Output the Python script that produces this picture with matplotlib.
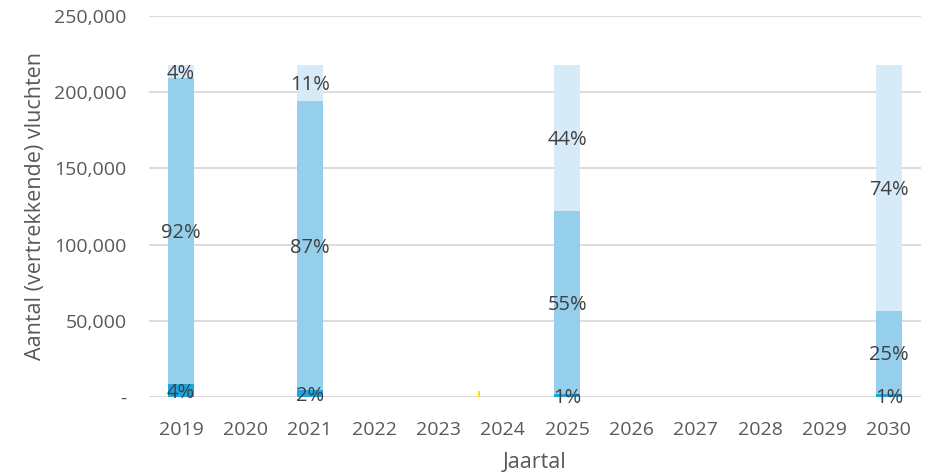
import matplotlib
matplotlib.use("Agg")
import matplotlib.pyplot as plt
import matplotlib.transforms as mtransforms
import numpy as np

plt.rcParams['font.family'] = ['Open Sans', 'DejaVu Sans']

years = ['2019', '2020', '2021', '2022', '2023', '2024', '2025', '2026', '2027', '2028', '2029', '2030']
dark = [8700, 0, 4400, 0, 0, 0, 2200, 0, 0, 0, 0, 2200]
mid = [200500, 0, 189700, 0, 0, 0, 119900, 0, 0, 0, 0, 54500]
light = [8700, 0, 24000, 0, 0, 0, 95900, 0, 0, 0, 0, 161300]
dark_lbl = ['4%', '', '2%', '', '', '', '1%', '', '', '', '', '1%']
mid_lbl = ['92%', '', '87%', '', '', '', '55%', '', '', '', '', '25%']
light_lbl = ['4%', '', '11%', '', '', '', '44%', '', '', '', '', '74%']
yellow_pos = [4.63]
yellow_val = [4000]

yticks = [0, 50000, 100000, 150000, 200000, 250000]
ytick_labels = ['-', '50,000', '100,000', '150,000', '200,000', '250,000']

fig = plt.figure(figsize=(9.3, 4.75), dpi=100)
ax = fig.add_axes([149/930, 1-397/475, (921-149)/930, (397-16)/475])

x = np.arange(len(years))
w = 0.41
c_dark, c_mid, c_light = '#1ba6e0', '#95cfec', '#d6eaf7'
d = np.array(dark); m = np.array(mid); l = np.array(light)
ax.bar(x, d, w, color=c_dark, zorder=2)
ax.bar(x, m, w, bottom=d, color=c_mid, zorder=2)
ax.bar(x, l, w, bottom=d + m, color=c_light, zorder=2)
ax.bar(yellow_pos, yellow_val, 0.03, color='#ffe000', zorder=2)

tc = '#404040'
fs = 14.5
off = mtransforms.offset_copy(ax.transData, fig=fig, x=0, y=-2.5, units='dots')
for i in range(len(years)):
    if dark_lbl[i]:
        ax.text(x[i], d[i] / 2, dark_lbl[i], ha='center', va='center', color=tc, fontsize=fs, zorder=3, transform=off)
    if mid_lbl[i]:
        ax.text(x[i], d[i] + m[i] / 2, mid_lbl[i], ha='center', va='center', color=tc, fontsize=fs, zorder=3, transform=off)
    if light_lbl[i]:
        ax.text(x[i], d[i] + m[i] + l[i] / 2, light_lbl[i], ha='center', va='center', color=tc, fontsize=fs, zorder=3, transform=off)

ax.set_xlim(-0.5, 11.5)
ax.set_ylim(0, 250000)
ax.set_yticks(yticks)
ax.set_yticklabels(ytick_labels)
ax.set_xticks(x)
ax.set_xticklabels(years)
ax.grid(axis='y', color='#d9d9d9', linewidth=1.3, zorder=0)
for s in ax.spines.values():
    s.set_visible(False)
ax.tick_params(axis='both', length=0, colors='#595959', labelsize=14)
ax.tick_params(axis='y', pad=16)
ax.tick_params(axis='x', pad=17)
ax.set_ylabel('Aantal (vertrekkende) vluchten', fontsize=15.5, color='#595959', labelpad=6)
ax.set_xlabel('Jaartal', fontsize=15.5, color='#595959', labelpad=10)

fig.savefig('out.png', dpi=100)
